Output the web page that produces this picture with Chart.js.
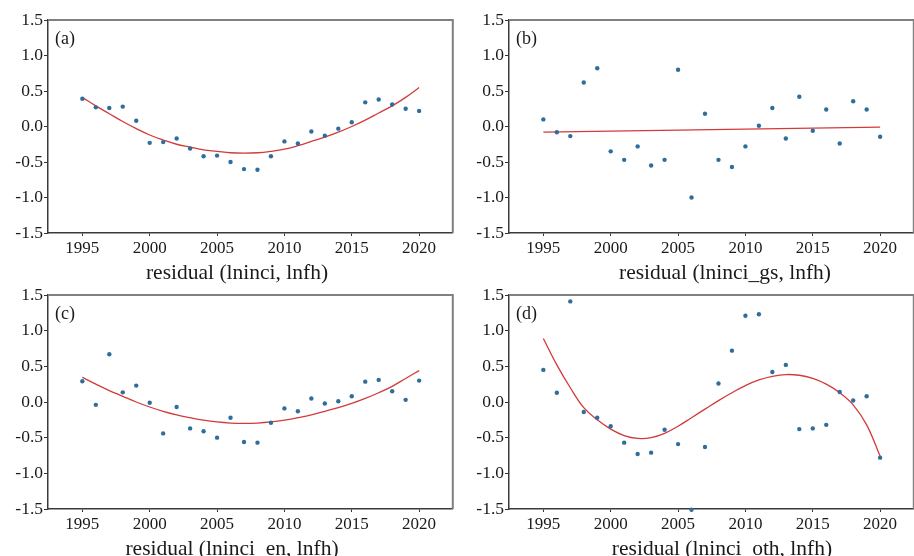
<!DOCTYPE html>
<html>
<head>
<meta charset="utf-8">
<script src="https://cdn.jsdelivr.net/npm/chart.js@4.4.1/dist/chart.umd.min.js"></script>
<style>
  html, body { margin: 0; padding: 0; background: #fff; overflow: hidden; width: 914px; height: 556px; }
  canvas { position: absolute; }
</style>
</head>
<body>
<canvas id="pa" width="455" height="290" style="left:0px;top:0px"></canvas>
<canvas id="pb" width="455" height="290" style="left:461px;top:0px"></canvas>
<canvas id="pc" width="455" height="290" style="left:0px;top:270px"></canvas>
<canvas id="pd" width="455" height="290" style="left:461px;top:270px"></canvas>
<script>
// ---------------- data ----------------
const years = [1995,1996,1997,1998,1999,2000,2001,2002,2003,2004,2005,2006,2007,2008,2009,2010,2011,2012,2013,2014,2015,2016,2017,2018,2019,2020];
const xTickValues = [1995, 2000, 2005, 2010, 2015, 2020];
const yTickValues = [-1.5, -1.0, -0.5, 0.0, 0.5, 1.0, 1.5];
const panelLabels = ['(a)', '(b)', '(c)', '(d)'];
const axisTitles = ['residual (lninci, lnfh)', 'residual (lninci_gs, lnfh)', 'residual (lninci_en, lnfh)', 'residual (lninci_oth, lnfh)'];

const residA = [0.39,0.27,0.26,0.28,0.08,-0.23,-0.22,-0.17,-0.31,-0.42,-0.41,-0.50,-0.60,-0.61,-0.42,-0.21,-0.24,-0.07,-0.13,-0.03,0.06,0.34,0.38,0.31,0.25,0.22];
const fitA   = [0.41,0.29,0.18,0.07,-0.03,-0.12,-0.19,-0.25,-0.29,-0.33,-0.35,-0.37,-0.375,-0.37,-0.35,-0.32,-0.27,-0.21,-0.15,-0.08,0.0,0.09,0.19,0.29,0.41,0.55];

const residB = [0.10,-0.08,-0.135,0.62,0.82,-0.35,-0.47,-0.28,-0.55,-0.47,0.80,-1.00,0.18,-0.47,-0.57,-0.28,0.01,0.26,-0.17,0.42,-0.06,0.24,-0.24,0.355,0.24,-0.145];
const fitBYears = [1995, 2020];
const fitB   = [-0.08, -0.01];

const residC = [0.29,-0.04,0.67,0.135,0.23,-0.01,-0.44,-0.07,-0.37,-0.41,-0.50,-0.22,-0.56,-0.57,-0.29,-0.09,-0.13,0.05,-0.02,0.01,0.08,0.285,0.31,0.15,0.03,0.30];
const fitC   = [0.345,0.25,0.16,0.08,0.0,-0.07,-0.13,-0.18,-0.22,-0.255,-0.28,-0.295,-0.30,-0.295,-0.28,-0.255,-0.22,-0.18,-0.13,-0.08,-0.02,0.05,0.13,0.22,0.33,0.44];

const residD = [0.45,0.13,1.41,-0.14,-0.22,-0.34,-0.57,-0.73,-0.71,-0.39,-0.59,-1.51,-0.63,0.26,0.72,1.21,1.23,0.42,0.52,-0.38,-0.37,-0.32,0.14,0.02,0.08,-0.78];
const fitD   = [0.89,0.52,0.20,-0.08,-0.25,-0.38,-0.47,-0.51,-0.50,-0.44,-0.34,-0.22,-0.10,0.02,0.13,0.23,0.31,0.36,0.385,0.375,0.33,0.25,0.13,-0.04,-0.32,-0.76];

// ---------------- style ----------------
const SERIF = "'Liberation Serif', 'Times New Roman', serif";
const DOT = '#2f6e9c';
const RED = '#d23b3b';
const TXT = '#1a1a1a';

const framePlugin = {
  id: 'frame',
  afterDraw(chart, args, o) {
    const {ctx, chartArea: a} = chart;
    ctx.save();
    ctx.strokeStyle = '#808080';
    ctx.lineWidth = 2;
    ctx.beginPath();
    ctx.moveTo(a.left, a.top);
    ctx.lineTo(a.right, a.top);
    ctx.lineTo(a.right, a.bottom);
    ctx.stroke();
    ctx.fillStyle = TXT;
    ctx.font = "18px " + SERIF;
    ctx.textAlign = 'left';
    ctx.textBaseline = 'middle';
    ctx.fillText(o.label, a.left + 7, a.top + 19);
    ctx.font = "21.5px " + SERIF;
    ctx.textAlign = 'center';
    ctx.textBaseline = 'alphabetic';
    ctx.fillText(o.title, o.titleX, o.titleY);
    ctx.restore();
  }
};

function makePanel(id, resid, fitX, fitY, idx, padTop, xHeight, titleX, titleY) {
  const pts = years.map((y, i) => ({x: y, y: resid[i]}));
  const fit = fitX.map((y, i) => ({x: y, y: fitY[i]}));
  new Chart(document.getElementById(id), {
    type: 'scatter',
    data: {
      datasets: [
        { data: pts, backgroundColor: DOT, borderWidth: 0, pointRadius: 2.2, pointHoverRadius: 2.2, clip: false, order: 0 },
        { data: fit, showLine: true, borderColor: RED, borderWidth: 1.3, pointRadius: 0, tension: 0.4, fill: false, clip: false, order: 1 }
      ]
    },
    options: {
      responsive: false,
      animation: false,
      devicePixelRatio: 1,
      events: [],
      layout: { padding: { top: padTop, right: 1, left: 0, bottom: 0 } },
      plugins: {
        legend: { display: false },
        tooltip: { enabled: false },
        frame: { label: panelLabels[idx], title: axisTitles[idx], titleX: titleX, titleY: titleY }
      },
      scales: {
        x: {
          type: 'linear', min: 1992.45, max: 2022.5,
          afterBuildTicks: s => { s.ticks = xTickValues.map(v => ({value: v})); },
          afterFit: s => { s.height = xHeight; },
          grid: { drawOnChartArea: false, drawTicks: true, tickLength: 3, color: '#333', lineWidth: 1 },
          border: { display: true, color: '#3a3a3a', width: 1.5 },
          ticks: { color: TXT, padding: 2, maxRotation: 0, autoSkip: false,
                   font: { family: SERIF, size: 17 }, callback: v => String(v) }
        },
        y: {
          type: 'linear', min: -1.5, max: 1.5,
          afterBuildTicks: s => { s.ticks = yTickValues.map(v => ({value: v})); },
          afterFit: s => { s.width = 48; },
          grid: { drawOnChartArea: false, drawTicks: true, tickLength: 4, color: '#333', lineWidth: 1 },
          border: { display: true, color: '#3a3a3a', width: 1.5 },
          ticks: { color: TXT, padding: 1, autoSkip: false,
                   font: { family: SERIF, size: 17.5 }, callback: v => Number(v).toFixed(1) }
        }
      }
    },
    plugins: [framePlugin]
  });
}

makePanel('pa', residA, years, fitA, 0, 20, 57, 237, 279);
makePanel('pb', residB, fitBYears, fitB, 1, 20, 57, 264, 279);
makePanel('pc', residC, years, fitC, 2, 25, 51, 232, 285);
makePanel('pd', residD, years, fitD, 3, 25, 51, 261, 285);
</script>
</body>
</html>
